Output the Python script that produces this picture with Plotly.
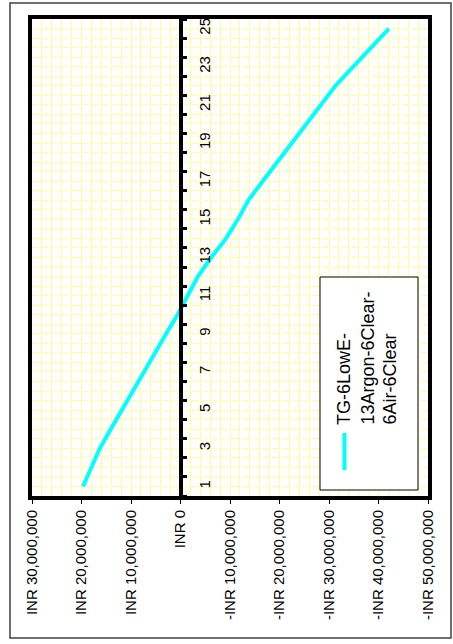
import plotly.graph_objects as go

# Cumulative net value of the glazing option by year (INR)
years = list(range(1, 26))
net_value_inr = [
    19.7e6, 18.0e6, 16.3e6, 14.1e6, 11.9e6, 9.6e6, 7.4e6, 5.1e6, 2.9e6, 0.6e6,
    -1.5e6, -3.5e6, -6.2e6, -9.2e6, -11.6e6, -13.7e6, -16.6e6, -19.5e6, -22.5e6,
    -25.5e6, -28.4e6, -31.3e6, -34.9e6, -38.5e6, -42.1e6,
]
series_name_lines = ["TG-6LowE-", "13Argon-6Clear-", "6Air-6Clear"]

value_ticks = [30e6, 20e6, 10e6, 0, -10e6, -20e6, -30e6, -40e6, -50e6]
value_tick_text = [
    "INR 30,000,000", "INR 20,000,000", "INR 10,000,000", "INR 0",
    "-INR 10,000,000", "-INR 20,000,000", "-INR 30,000,000",
    "-INR 40,000,000", "-INR 50,000,000",
]
year_ticks = list(range(1, 26, 2))

FONT = "Liberation Sans, Arial, sans-serif"
GRID = "#FFFF99"
CYAN = "#00FFFF"

W, H = 453, 644
L, R, T, B = 32, 25, 19, 148
PW, PH = W - L - R, H - T - B


def px(xp):
    return (xp - L) / PW


def py(yp):
    return (H - B - yp) / PH


fig = go.Figure()
fig.add_trace(go.Scatter(
    x=net_value_inr, y=years, mode="lines",
    line=dict(color=CYAN, width=4), name=" ".join(series_name_lines),
    showlegend=False, yaxis="y",
))

fig.update_layout(
    width=W, height=H,
    margin=dict(l=L, r=R, t=T, b=B),
    paper_bgcolor="white", plot_bgcolor="white",
    font=dict(family=FONT, color="black"),
    showlegend=False,
    xaxis=dict(
        range=[30e6, -50e6], tickmode="array", tickvals=value_ticks,
        ticktext=value_tick_text, tickangle=-90, tickfont=dict(size=15),
        ticks="outside", ticklen=4, tickwidth=1, tickcolor="black",
        showline=True, linecolor="black", linewidth=4, mirror=True,
        showgrid=True, gridcolor=GRID, gridwidth=1, zeroline=False,
        minor=dict(dtick=2e6, tick0=0, showgrid=True, gridcolor=GRID, gridwidth=1),
    ),
    yaxis=dict(
        range=[0.5, 25.5], anchor="free", position=30 / 80, side="right",
        tickmode="array", tickvals=year_ticks, tickangle=-90,
        tickfont=dict(size=15), ticks="", ticklabelstandoff=9,
        showgrid=False, zeroline=False,
        showline=True, linecolor="black", linewidth=4,
        minor=dict(tick0=0.5, dtick=1, ticks="outside", ticklen=4,
                   tickwidth=3, tickcolor="black", showgrid=False),
    ),
    yaxis2=dict(
        range=[0.5, 25.5], overlaying="y", anchor="x", side="left",
        showticklabels=False, ticks="", tick0=0.5, dtick=0.5,
        showgrid=True, gridcolor=GRID, gridwidth=1, griddash="7px,3px",
        zeroline=False, showline=True, linecolor="black", linewidth=4, mirror=True,
    ),
)

# a hidden trace so the gridline axis is drawn
fig.add_trace(go.Scatter(x=[None], y=[None], yaxis="y2", showlegend=False,
                         hoverinfo="skip"))

shapes = [
    # outer chart border
    dict(type="rect", xref="paper", yref="paper",
         x0=px(10), x1=px(451), y0=py(638), y1=py(3),
         line=dict(color="#404040", width=1.5), fillcolor="rgba(0,0,0,0)"),
    # legend box
    dict(type="rect", xref="paper", yref="paper",
         x0=px(320), x1=px(418), y0=py(490), y1=py(277),
         line=dict(color="black", width=1), fillcolor="white", layer="above"),
    # legend sample line
    dict(type="line", xref="paper", yref="paper",
         x0=px(344.5), x1=px(344.5), y0=py(470), y1=py(433),
         line=dict(color=CYAN, width=4), layer="above"),
]
fig.update_layout(shapes=shapes)

for i, (xc, txt) in enumerate(zip([344, 367, 389], series_name_lines)):
    fig.add_annotation(
        xref="paper", yref="paper", x=px(xc), y=py(427),
        xanchor="center", yanchor="bottom", text=txt, textangle=-90,
        showarrow=False, font=dict(size=18, family=FONT, color="black"),
    )

fig.write_html("out.html")
